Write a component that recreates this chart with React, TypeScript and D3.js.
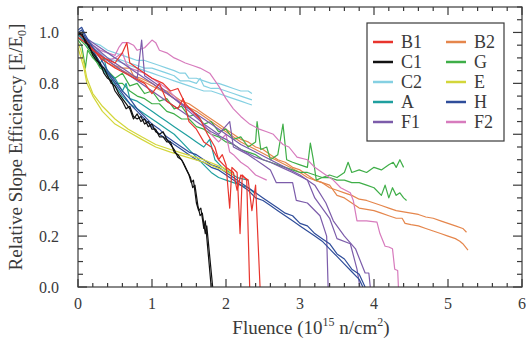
import React from "react";
import * as d3 from "d3";

type P = [number, number];

const xTicks = [0, 1, 2, 3, 4, 5, 6];
const yTicks = [0, 0.2, 0.4, 0.6, 0.8, 1.0];

const B1a: P[] = [[0,1.0],[0.1,0.97],[0.2,0.93],[0.35,0.9],[0.5,0.88],[0.6,0.92],[0.66,0.96],[0.7,0.88],[0.85,0.85],[1.0,0.82],[1.15,0.8],[1.25,0.77],[1.35,0.78],[1.45,0.72],[1.55,0.69],[1.65,0.66],[1.75,0.6],[1.85,0.55],[1.9,0.5],[1.95,0.52],[2.0,0.48],[2.05,0.31],[2.08,0.47],[2.15,0.45],[2.19,0.21],[2.22,0.44],[2.28,0.42],[2.32,0]];
const B1b: P[] = [[0,0.98],[0.15,0.95],[0.3,0.9],[0.5,0.86],[0.7,0.83],[0.9,0.8],[1.0,0.76],[1.1,0.8],[1.2,0.73],[1.35,0.7],[1.42,0.74],[1.5,0.65],[1.6,0.62],[1.7,0.57],[1.8,0.55],[1.9,0.5],[2.0,0.47],[2.1,0.45],[2.15,0.38],[2.2,0.44],[2.3,0.42],[2.35,0.3],[2.4,0.4],[2.46,0]];
const B2a: P[] = [[0,1.0],[0.1,0.97],[0.2,0.94],[0.3,0.91],[0.4,0.89],[0.5,0.87],[0.6,0.86],[0.7,0.86],[0.75,0.83],[0.85,0.82],[1.0,0.8],[1.1,0.78],[1.2,0.77],[1.3,0.75],[1.4,0.73],[1.5,0.72],[1.6,0.7],[1.7,0.68],[1.8,0.66],[1.9,0.64],[2.0,0.62],[2.1,0.6],[2.2,0.58],[2.3,0.57],[2.4,0.55],[2.5,0.54],[2.6,0.52],[2.7,0.5],[2.8,0.49],[2.9,0.47],[3.0,0.46],[3.1,0.44],[3.2,0.42],[3.3,0.41],[3.4,0.39],[3.5,0.38],[3.6,0.37],[3.7,0.36],[3.8,0.345],[3.9,0.34],[4.0,0.33],[4.1,0.32],[4.2,0.31],[4.3,0.3],[4.4,0.295],[4.5,0.29],[4.6,0.285],[4.7,0.275],[4.8,0.27],[4.9,0.26],[5.0,0.25],[5.1,0.24],[5.2,0.23],[5.25,0.215]];
const B2b: P[] = [[0,0.99],[0.2,0.93],[0.4,0.88],[0.6,0.85],[0.8,0.82],[1.0,0.79],[1.2,0.76],[1.4,0.72],[1.6,0.69],[1.8,0.65],[2.0,0.61],[2.2,0.57],[2.4,0.54],[2.6,0.51],[2.8,0.48],[3.0,0.45],[3.1,0.43],[3.2,0.42],[3.3,0.41],[3.4,0.4],[3.5,0.36],[3.6,0.35],[3.7,0.33],[3.8,0.31],[3.9,0.305],[4.0,0.3],[4.1,0.29],[4.2,0.28],[4.3,0.27],[4.38,0.27],[4.42,0.25],[4.5,0.245],[4.6,0.24],[4.7,0.23],[4.8,0.22],[4.9,0.21],[5.0,0.2],[5.1,0.19],[5.16,0.18],[5.2,0.17],[5.27,0.145]];
const C1a: P[] = [[0,1.0],[0.05,0.99],[0.1,0.97],[0.15,0.94],[0.2,0.92],[0.25,0.9],[0.3,0.87],[0.35,0.86],[0.4,0.83],[0.45,0.8],[0.5,0.79],[0.55,0.76],[0.6,0.74],[0.65,0.72],[0.7,0.7],[0.75,0.66],[0.8,0.68],[0.85,0.65],[0.9,0.66],[0.95,0.63],[1.0,0.64],[1.05,0.61],[1.1,0.6],[1.15,0.61],[1.2,0.58],[1.25,0.56],[1.3,0.54],[1.35,0.51],[1.4,0.5],[1.45,0.47],[1.5,0.44],[1.53,0.41],[1.56,0.42],[1.6,0.33],[1.63,0.3],[1.66,0.31],[1.7,0.23],[1.72,0.26],[1.76,0.13],[1.8,0]];
const C1b: P[] = [[0,0.99],[0.05,1.0],[0.1,0.96],[0.15,0.95],[0.2,0.91],[0.25,0.89],[0.3,0.88],[0.35,0.84],[0.4,0.82],[0.45,0.81],[0.5,0.77],[0.55,0.75],[0.6,0.73],[0.65,0.7],[0.7,0.71],[0.75,0.67],[0.8,0.66],[0.85,0.67],[0.9,0.64],[0.95,0.65],[1.0,0.62],[1.05,0.62],[1.1,0.59],[1.15,0.59],[1.2,0.57],[1.25,0.57],[1.3,0.53],[1.35,0.52],[1.42,0.49],[1.47,0.46],[1.52,0.43],[1.55,0.39],[1.58,0.4],[1.62,0.32],[1.65,0.28],[1.68,0.29],[1.72,0.21],[1.74,0.24],[1.78,0.12],[1.82,0]];
const C2a: P[] = [[0,1.0],[0.1,0.98],[0.2,0.96],[0.3,0.95],[0.4,0.93],[0.5,0.92],[0.6,0.91],[0.7,0.9],[0.8,0.89],[0.9,0.89],[1.0,0.88],[1.1,0.87],[1.2,0.86],[1.3,0.85],[1.38,0.84],[1.45,0.84],[1.5,0.82],[1.6,0.82],[1.7,0.81],[1.8,0.8],[1.9,0.8],[2.0,0.79],[2.1,0.78],[2.2,0.77],[2.3,0.77],[2.35,0.76]];
const C2b: P[] = [[0,0.99],[0.1,0.97],[0.2,0.95],[0.3,0.93],[0.4,0.92],[0.5,0.9],[0.6,0.89],[0.7,0.88],[0.8,0.87],[0.9,0.86],[1.0,0.86],[1.1,0.85],[1.2,0.84],[1.3,0.83],[1.38,0.81],[1.5,0.81],[1.6,0.8],[1.65,0.82],[1.7,0.79],[1.8,0.78],[1.9,0.78],[2.0,0.77],[2.1,0.76],[2.2,0.75],[2.3,0.74],[2.35,0.735]];
const C2c: P[] = [[0,1.0],[0.1,0.97],[0.2,0.94],[0.3,0.92],[0.4,0.9],[0.5,0.89],[0.6,0.88],[0.7,0.87],[0.8,0.86],[0.9,0.85],[1.0,0.84],[1.1,0.83],[1.2,0.82],[1.3,0.81],[1.4,0.8],[1.5,0.79],[1.6,0.78],[1.7,0.77],[1.8,0.77],[1.9,0.76],[2.0,0.75],[2.1,0.74],[2.2,0.73],[2.3,0.72],[2.35,0.715]];
const Ea: P[] = [[0,0.96],[0.04,0.93],[0.08,0.88],[0.12,0.82],[0.2,0.76],[0.33,0.71],[0.5,0.66],[0.68,0.62],[0.86,0.59],[1.05,0.56],[1.25,0.54],[1.47,0.52],[1.7,0.5],[1.95,0.47],[2.1,0.45]];
const Eb: P[] = [[0,0.94],[0.04,0.9],[0.08,0.86],[0.12,0.8],[0.2,0.75],[0.33,0.69],[0.5,0.64],[0.68,0.61],[0.86,0.58],[1.05,0.55],[1.25,0.53],[1.47,0.51],[1.7,0.49],[1.95,0.46],[2.1,0.44]];
const Aa: P[] = [[0,1.0],[0.1,0.96],[0.2,0.92],[0.3,0.87],[0.4,0.83],[0.5,0.79],[0.6,0.75],[0.7,0.72],[0.8,0.7],[0.9,0.68],[1.0,0.66],[1.1,0.64],[1.2,0.62],[1.3,0.6],[1.4,0.57],[1.5,0.54],[1.6,0.51],[1.7,0.48],[1.8,0.45],[1.9,0.43],[2.0,0.42],[2.1,0.41],[2.2,0.4],[2.3,0.39],[2.38,0.37]];
const Ab: P[] = [[0,0.99],[0.1,0.97],[0.2,0.93],[0.3,0.88],[0.35,0.9],[0.4,0.84],[0.5,0.82],[0.6,0.77],[0.65,0.8],[0.7,0.74],[0.8,0.73],[0.9,0.71],[1.0,0.69],[1.1,0.67],[1.2,0.65],[1.3,0.63],[1.4,0.61],[1.5,0.59],[1.6,0.57],[1.7,0.55],[1.78,0.58],[1.85,0.5],[1.95,0.47],[2.05,0.45],[2.15,0.43],[2.3,0.42]];
const Ga: P[] = [[0,0.97],[0.05,0.95],[0.1,0.86],[0.13,0.93],[0.2,0.9],[0.3,0.87],[0.4,0.85],[0.5,0.82],[0.6,0.84],[0.7,0.79],[0.8,0.8],[0.9,0.76],[1.0,0.77],[1.1,0.73],[1.2,0.74],[1.3,0.7],[1.4,0.71],[1.5,0.67],[1.6,0.68],[1.7,0.64],[1.8,0.65],[1.9,0.61],[2.0,0.62],[2.1,0.58],[2.2,0.59],[2.3,0.55],[2.4,0.57],[2.42,0.65],[2.47,0.54],[2.55,0.55],[2.6,0.5],[2.7,0.52],[2.77,0.64],[2.82,0.5],[2.9,0.49],[3.0,0.48],[3.1,0.47],[3.14,0.565],[3.18,0.5],[3.22,0.42],[3.3,0.43],[3.4,0.44],[3.5,0.43],[3.6,0.45],[3.65,0.49],[3.7,0.45],[3.8,0.46],[3.9,0.45],[4.0,0.47],[4.1,0.46],[4.2,0.48],[4.26,0.49],[4.3,0.47],[4.35,0.5],[4.4,0.47]];
const Gb: P[] = [[0,0.98],[0.1,0.95],[0.2,0.91],[0.3,0.86],[0.4,0.84],[0.5,0.8],[0.6,0.8],[0.7,0.77],[0.8,0.75],[0.9,0.74],[1.0,0.72],[1.1,0.72],[1.2,0.69],[1.3,0.68],[1.4,0.66],[1.5,0.66],[1.6,0.63],[1.7,0.62],[1.8,0.6],[1.9,0.59],[2.0,0.57],[2.1,0.56],[2.2,0.54],[2.3,0.53],[2.4,0.52],[2.5,0.5],[2.6,0.49],[2.7,0.48],[2.8,0.47],[2.9,0.46],[3.0,0.45],[3.1,0.45],[3.2,0.44],[3.3,0.43],[3.4,0.43],[3.5,0.42],[3.6,0.42],[3.7,0.41],[3.8,0.41],[3.9,0.4],[4.0,0.39],[4.1,0.36],[4.15,0.4],[4.2,0.35],[4.25,0.39],[4.3,0.36],[4.35,0.37],[4.4,0.35],[4.44,0.34]];
const Ha: P[] = [[0,1.0],[0.05,1.01],[0.1,0.98],[0.2,0.93],[0.3,0.88],[0.4,0.84],[0.5,0.8],[0.6,0.76],[0.7,0.72],[0.8,0.69],[0.9,0.66],[1.0,0.63],[1.1,0.6],[1.2,0.58],[1.3,0.56],[1.4,0.54],[1.5,0.52],[1.6,0.5],[1.7,0.49],[1.8,0.47],[1.9,0.46],[2.0,0.44],[2.1,0.42],[2.2,0.4],[2.3,0.38],[2.4,0.35],[2.5,0.34],[2.6,0.32],[2.7,0.3],[2.8,0.28],[2.9,0.26],[3.0,0.24],[3.1,0.22],[3.2,0.2],[3.3,0.18],[3.4,0.15],[3.5,0.12],[3.6,0.09],[3.7,0.06],[3.8,0.03],[3.85,0]];
const Hb: P[] = [[0,1.01],[0.05,1.02],[0.1,0.99],[0.2,0.94],[0.3,0.9],[0.4,0.85],[0.5,0.81],[0.6,0.77],[0.7,0.74],[0.8,0.7],[0.9,0.67],[1.0,0.64],[1.1,0.62],[1.2,0.59],[1.3,0.57],[1.4,0.55],[1.5,0.53],[1.6,0.52],[1.7,0.5],[1.8,0.48],[1.9,0.47],[2.0,0.45],[2.1,0.43],[2.2,0.41],[2.3,0.39],[2.4,0.37],[2.5,0.35],[2.6,0.33],[2.7,0.31],[2.8,0.29],[2.9,0.28],[3.0,0.25],[3.1,0.24],[3.2,0.21],[3.3,0.19],[3.4,0.17],[3.5,0.13],[3.6,0.11],[3.7,0.07],[3.8,0.05],[3.88,0]];
const F1a: P[] = [[0,1.0],[0.2,0.95],[0.4,0.9],[0.6,0.86],[0.8,0.82],[0.86,0.97],[0.9,0.83],[1.1,0.79],[1.3,0.74],[1.5,0.69],[1.7,0.64],[1.9,0.6],[2.05,0.65],[2.1,0.55],[2.3,0.52],[2.5,0.48],[2.6,0.46],[2.68,0.41],[2.9,0.41],[2.95,0.34],[3.1,0.33],[3.27,0.28],[3.36,0.2],[3.38,0]];
const F1b: P[] = [[0,0.99],[0.2,0.94],[0.4,0.89],[0.6,0.85],[0.8,0.81],[1.0,0.77],[1.2,0.73],[1.4,0.69],[1.6,0.65],[1.8,0.61],[2.0,0.58],[2.2,0.54],[2.4,0.51],[2.6,0.49],[2.75,0.47],[2.9,0.45],[3.1,0.42],[3.2,0.35],[3.4,0.27],[3.5,0.19],[3.68,0.17],[3.77,0.07],[3.81,0]];
const F1c: P[] = [[0,1.0],[0.2,0.96],[0.4,0.92],[0.6,0.88],[0.8,0.84],[1.0,0.8],[1.2,0.76],[1.4,0.72],[1.6,0.68],[1.8,0.64],[2.0,0.6],[2.2,0.56],[2.4,0.53],[2.6,0.5],[2.8,0.47],[3.0,0.44],[3.2,0.4],[3.35,0.33],[3.45,0.26],[3.6,0.2],[3.75,0.15],[3.88,0.055],[3.93,0.055],[3.95,0]];
const F2a: P[] = [[0,1.0],[0.05,0.99],[0.1,0.97],[0.2,0.95],[0.3,0.93],[0.4,0.92],[0.5,0.91],[0.55,0.94],[0.6,0.96],[0.68,0.96],[0.75,0.95],[0.8,0.93],[0.9,0.94],[1.0,0.97],[1.05,0.96],[1.1,0.93],[1.2,0.92],[1.3,0.9],[1.38,0.89],[1.45,0.88],[1.55,0.87],[1.65,0.86],[1.78,0.84],[1.9,0.79],[2.0,0.74],[2.1,0.7],[2.2,0.67],[2.32,0.64],[2.45,0.62],[2.55,0.61],[2.64,0.6],[2.7,0.58],[2.77,0.56],[2.85,0.55],[2.96,0.51],[3.1,0.5],[3.2,0.47],[3.3,0.45],[3.45,0.42],[3.55,0.39],[3.68,0.37],[3.72,0.34],[3.77,0.26],[3.9,0.26],[4.04,0.255],[4.08,0.21],[4.15,0.16],[4.2,0.157],[4.25,0.15],[4.28,0.07],[4.32,0.065],[4.33,0]];
const F2b: P[] = [[0,0.99],[0.1,0.96],[0.2,0.93],[0.3,0.91],[0.4,0.89],[0.5,0.9],[0.6,0.92],[0.65,0.88],[0.7,0.86],[0.8,0.85],[0.9,0.84],[1.0,0.82],[1.1,0.8],[1.2,0.78],[1.3,0.75],[1.4,0.72],[1.5,0.7],[1.6,0.67],[1.7,0.64],[1.8,0.6],[1.9,0.57],[2.0,0.6],[2.05,0.53],[2.1,0.52],[2.2,0.49],[2.3,0.47],[2.4,0.44],[2.55,0.42]];

const seriesNames = ["B1", "C1", "C2", "A", "F1", "B2", "G", "E", "H", "F2"];
const seriesLines: Record<string, P[][]> = {
  B2: [B2a, B2b], G: [Ga, Gb], C2: [C2a, C2b, C2c], E: [Ea, Eb], H: [Ha, Hb],
  F2: [F2a, F2b], F1: [F1a, F1b, F1c], A: [Aa, Ab], B1: [B1a, B1b], C1: [C1a, C1b],
};
const drawOrder = ["B2", "G", "C2", "F2", "F1", "A", "H", "E", "B1", "C1"];

const colors: Record<string, string> = {
  B1: "#e8352d", B2: "#e5864c", C1: "#111111", G: "#3fae48", C2: "#85d0e2",
  E: "#d3d63a", A: "#1f9f9f", H: "#2f4d9a", F1: "#7c5caa", F2: "#d77bbd",
};

export default function App() {
  const L = 78, R = 522, T = 7, B = 287;
  const x = d3.scaleLinear().domain([0, 6]).range([L, R]);
  const y = d3.scaleLinear().domain([0, 1.1]).range([B, T]);
  const line = d3.line<P>().x(d => x(d[0])).y(d => y(d[1]));
  const xMinor = d3.range(0, 30).map(i => i * 0.2).filter(v => Math.abs(v - Math.round(v)) > 1e-6);
  const yMinor = d3.range(0, 23).map(i => i * 0.05).filter(v => Math.abs(v / 0.2 - Math.round(v / 0.2)) > 1e-6 && v <= 1.1);
  const axisColor = "#3a3a3a";
  const font = '"Liberation Serif", "Times New Roman", Times, serif';
  return (
    <svg width={526} height={348} style={{ position: "absolute", left: 0, top: 0, fontFamily: font }}>
      <rect width={526} height={348} fill="#fff" />
      <defs>
        <clipPath id="plot"><rect x={L} y={T} width={R - L} height={B - T} /></clipPath>
      </defs>
      <g clipPath="url(#plot)" fill="none" strokeWidth={1.2} strokeLinejoin="round">
        {drawOrder.map(name => seriesLines[name].map((pts, i) => (
          <path key={name + i} d={line(pts) || ""} stroke={colors[name]} />
        )))}
      </g>
      <g stroke={axisColor} strokeWidth={1.2}>
        {xTicks.map(v => (
          <g key={"xt" + v}>
            <line x1={x(v)} x2={x(v)} y1={B} y2={B - 8} />
            <line x1={x(v)} x2={x(v)} y1={T} y2={T + 8} />
          </g>
        ))}
        {xMinor.map(v => (
          <g key={"xm" + v}>
            <line x1={x(v)} x2={x(v)} y1={B} y2={B - 4} />
            <line x1={x(v)} x2={x(v)} y1={T} y2={T + 4} />
          </g>
        ))}
        {yTicks.map(v => (
          <g key={"yt" + v}>
            <line x1={L} x2={L + 9} y1={y(v)} y2={y(v)} />
            <line x1={R} x2={R - 9} y1={y(v)} y2={y(v)} />
          </g>
        ))}
        {yMinor.map(v => (
          <g key={"ym" + v}>
            <line x1={L} x2={L + 5} y1={y(v)} y2={y(v)} />
            <line x1={R} x2={R - 5} y1={y(v)} y2={y(v)} />
          </g>
        ))}
        <rect x={L} y={T} width={R - L} height={B - T} fill="none" />
      </g>
      <g fill={axisColor} fontSize={16} style={{ fontFamily: font }}>
        {xTicks.map(v => (
          <text key={"xl" + v} x={x(v)} y={B + 22} textAnchor="middle">{v}</text>
        ))}
        {yTicks.map(v => (
          <text key={"yl" + v} x={L - 19} y={y(v)} dy="0.35em" textAnchor="end">{v.toFixed(1)}</text>
        ))}
        <text x={(L + R) / 2 + 11} y={334} textAnchor="middle" fontSize={19}>
          Fluence (10<tspan fontSize={12} dy={-8}>15</tspan><tspan dy={8}> n/cm</tspan><tspan fontSize={12} dy={-8}>2</tspan><tspan dy={8}>)</tspan>
        </text>
        <text transform={`translate(22,${(T + B) / 2}) rotate(-90)`} textAnchor="middle" fontSize={19}>
          Relative Slope Efficiency [E/E<tspan fontSize={12} dy={4}>0</tspan><tspan dy={-4}>]</tspan>
        </text>
      </g>
      <g style={{ fontFamily: font }}>
        <rect x={367} y={23} width={137} height={118} fill="#fff" stroke={axisColor} strokeWidth={1.2} />
        {seriesNames.map((name, i) => {
          const col = Math.floor(i / 5), row = i % 5;
          const lx = col === 0 ? 373 : 446;
          const ly = 42 + row * 20;
          return (
            <g key={"lg" + name}>
              <line x1={lx} x2={lx + 20} y1={ly} y2={ly} stroke={colors[name]} strokeWidth={2.5} />
              <text x={lx + 28} y={ly} dy="0.35em" fontSize={18} fill={axisColor}>{name}</text>
            </g>
          );
        })}
      </g>
    </svg>
  );
}
